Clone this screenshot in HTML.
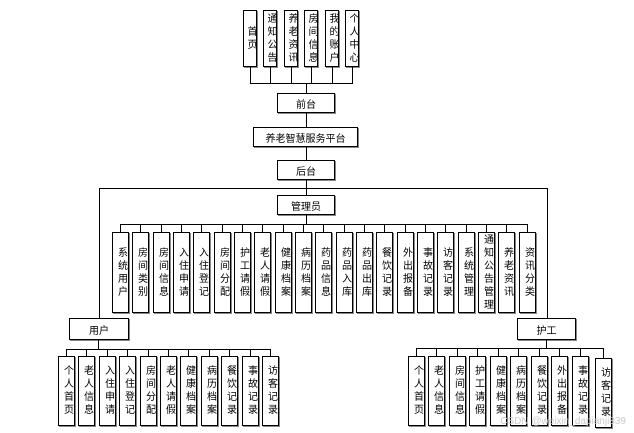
<!DOCTYPE html>
<html><head><meta charset="utf-8"><style>
body{margin:0;width:634px;height:433px;background:#fff;position:relative;overflow:hidden;font-family:"Liberation Sans","Noto Sans CJK SC",sans-serif;color:#000}
.b{position:absolute;box-sizing:border-box;border:1px solid #000;box-shadow:1px 1px 0 #888;background:#fff;display:flex;align-items:center;justify-content:center;font-size:10px}
.v span{writing-mode:vertical-rl;text-orientation:upright;letter-spacing:3px;line-height:1}
.h{position:absolute;height:1px;background:#000}
.l{position:absolute;width:1px;background:#000}
.w{position:absolute;font-size:10px;color:#ccc;right:8px;top:416px}
</style></head><body>
<!-- top row -->
<div class="b v" style="left:243px;top:10px;width:14px;height:57px"><span>首页</span></div>
<div class="b v" style="left:263px;top:10px;width:14px;height:57px"><span>通知公告</span></div>
<div class="b v" style="left:284px;top:10px;width:14px;height:57px"><span>养老资讯</span></div>
<div class="b v" style="left:304px;top:10px;width:14px;height:57px"><span>房间信息</span></div>
<div class="b v" style="left:325px;top:10px;width:14px;height:57px"><span>我的账户</span></div>
<div class="b v" style="left:345px;top:10px;width:14px;height:57px"><span>个人中心</span></div>
<div class="l" style="left:250px;top:67px;height:16px"></div>
<div class="l" style="left:270px;top:67px;height:16px"></div>
<div class="l" style="left:291px;top:67px;height:16px"></div>
<div class="l" style="left:311px;top:67px;height:16px"></div>
<div class="l" style="left:332px;top:67px;height:16px"></div>
<div class="l" style="left:352px;top:67px;height:16px"></div>
<div class="h" style="left:250px;top:83px;width:103px"></div>
<div class="l" style="left:306px;top:83px;height:10px"></div>
<div class="b" style="left:277px;top:93px;width:58px;height:20px">前台</div>
<div class="l" style="left:306px;top:113px;height:14px"></div>
<div class="b" style="left:253px;top:127px;width:105px;height:20px">养老智慧服务平台</div>
<div class="l" style="left:306px;top:147px;height:13px"></div>
<div class="b" style="left:277px;top:160px;width:58px;height:20px">后台</div>
<div class="l" style="left:306px;top:180px;height:15px"></div>
<div class="h" style="left:99px;top:188px;width:449px"></div>
<div class="l" style="left:99px;top:188px;height:130px"></div>
<div class="l" style="left:547px;top:188px;height:130px"></div>
<div class="b" style="left:277px;top:195px;width:58px;height:20px">管理员</div>
<div class="l" style="left:306px;top:215px;height:9px"></div>
<div class="h" style="left:120px;top:224px;width:408px"></div>
<!-- admin children -->
<div class="l" style="left:120px;top:224px;height:8px"></div><div class="b v" style="left:112px;top:232px;width:17px;height:81px"><span>系统用户</span></div>
<div class="l" style="left:140px;top:224px;height:8px"></div><div class="b v" style="left:132px;top:232px;width:17px;height:81px"><span>房间类别</span></div>
<div class="l" style="left:161px;top:224px;height:8px"></div><div class="b v" style="left:153px;top:232px;width:17px;height:81px"><span>房间信息</span></div>
<div class="l" style="left:181px;top:224px;height:8px"></div><div class="b v" style="left:173px;top:232px;width:17px;height:81px"><span>入住申请</span></div>
<div class="l" style="left:201px;top:224px;height:8px"></div><div class="b v" style="left:193px;top:232px;width:17px;height:81px"><span>入住登记</span></div>
<div class="l" style="left:222px;top:224px;height:8px"></div><div class="b v" style="left:214px;top:232px;width:17px;height:81px"><span>房间分配</span></div>
<div class="l" style="left:242px;top:224px;height:8px"></div><div class="b v" style="left:234px;top:232px;width:17px;height:81px"><span>护工请假</span></div>
<div class="l" style="left:262px;top:224px;height:8px"></div><div class="b v" style="left:254px;top:232px;width:17px;height:81px"><span>老人请假</span></div>
<div class="l" style="left:283px;top:224px;height:8px"></div><div class="b v" style="left:275px;top:232px;width:17px;height:81px"><span>健康档案</span></div>
<div class="l" style="left:303px;top:224px;height:8px"></div><div class="b v" style="left:295px;top:232px;width:17px;height:81px"><span>病历档案</span></div>
<div class="l" style="left:323px;top:224px;height:8px"></div><div class="b v" style="left:315px;top:232px;width:17px;height:81px"><span>药品信息</span></div>
<div class="l" style="left:344px;top:224px;height:8px"></div><div class="b v" style="left:336px;top:232px;width:17px;height:81px"><span>药品入库</span></div>
<div class="l" style="left:364px;top:224px;height:8px"></div><div class="b v" style="left:356px;top:232px;width:17px;height:81px"><span>药品出库</span></div>
<div class="l" style="left:384px;top:224px;height:8px"></div><div class="b v" style="left:376px;top:232px;width:17px;height:81px"><span>餐饮记录</span></div>
<div class="l" style="left:405px;top:224px;height:8px"></div><div class="b v" style="left:397px;top:232px;width:17px;height:81px"><span>外出报备</span></div>
<div class="l" style="left:425px;top:224px;height:8px"></div><div class="b v" style="left:417px;top:232px;width:17px;height:81px"><span>事故记录</span></div>
<div class="l" style="left:445px;top:224px;height:8px"></div><div class="b v" style="left:437px;top:232px;width:17px;height:81px"><span>访客记录</span></div>
<div class="l" style="left:466px;top:224px;height:8px"></div><div class="b v" style="left:458px;top:232px;width:17px;height:81px"><span>系统管理</span></div>
<div class="l" style="left:486px;top:224px;height:8px"></div><div class="b v" style="left:478px;top:232px;width:17px;height:81px"><span>通知公告管理</span></div>
<div class="l" style="left:506px;top:224px;height:8px"></div><div class="b v" style="left:498px;top:232px;width:17px;height:81px"><span>养老资讯</span></div>
<div class="l" style="left:527px;top:224px;height:8px"></div><div class="b v" style="left:519px;top:232px;width:17px;height:81px"><span>资讯分类</span></div>
<!-- user -->
<div class="b" style="left:69px;top:318px;width:60px;height:22px">用户</div>
<div class="l" style="left:98px;top:340px;height:9px"></div>
<div class="h" style="left:66px;top:349px;width:205px"></div>
<div class="l" style="left:66px;top:349px;height:7px"></div><div class="b v" style="left:58px;top:356px;width:17px;height:70px"><span>个人首页</span></div>
<div class="l" style="left:86px;top:349px;height:7px"></div><div class="b v" style="left:78px;top:356px;width:17px;height:70px"><span>老人信息</span></div>
<div class="l" style="left:107px;top:349px;height:7px"></div><div class="b v" style="left:99px;top:356px;width:17px;height:70px"><span>入住申请</span></div>
<div class="l" style="left:127px;top:349px;height:7px"></div><div class="b v" style="left:119px;top:356px;width:17px;height:70px"><span>入住登记</span></div>
<div class="l" style="left:148px;top:349px;height:7px"></div><div class="b v" style="left:140px;top:356px;width:17px;height:70px"><span>房间分配</span></div>
<div class="l" style="left:168px;top:349px;height:7px"></div><div class="b v" style="left:160px;top:356px;width:17px;height:70px"><span>老人请假</span></div>
<div class="l" style="left:188px;top:349px;height:7px"></div><div class="b v" style="left:180px;top:356px;width:17px;height:70px"><span>健康档案</span></div>
<div class="l" style="left:209px;top:349px;height:7px"></div><div class="b v" style="left:201px;top:356px;width:17px;height:70px"><span>病历档案</span></div>
<div class="l" style="left:229px;top:349px;height:7px"></div><div class="b v" style="left:221px;top:356px;width:17px;height:70px"><span>餐饮记录</span></div>
<div class="l" style="left:250px;top:349px;height:7px"></div><div class="b v" style="left:242px;top:356px;width:17px;height:70px"><span>事故记录</span></div>
<div class="l" style="left:270px;top:349px;height:7px"></div><div class="b v" style="left:262px;top:356px;width:17px;height:70px"><span>访客记录</span></div>
<!-- nurse -->
<div class="b" style="left:517px;top:318px;width:59px;height:22px">护工</div>
<div class="l" style="left:546px;top:340px;height:8px"></div>
<div class="h" style="left:416px;top:348px;width:188px"></div>
<div class="l" style="left:416px;top:348px;height:8px"></div><div class="b v" style="left:408px;top:356px;width:17px;height:70px"><span>个人首页</span></div>
<div class="l" style="left:436px;top:348px;height:8px"></div><div class="b v" style="left:428px;top:356px;width:17px;height:70px"><span>老人信息</span></div>
<div class="l" style="left:457px;top:348px;height:8px"></div><div class="b v" style="left:449px;top:356px;width:17px;height:70px"><span>房间信息</span></div>
<div class="l" style="left:477px;top:348px;height:8px"></div><div class="b v" style="left:469px;top:356px;width:17px;height:70px"><span>护工请假</span></div>
<div class="l" style="left:498px;top:348px;height:8px"></div><div class="b v" style="left:490px;top:356px;width:17px;height:70px"><span>健康档案</span></div>
<div class="l" style="left:518px;top:348px;height:8px"></div><div class="b v" style="left:510px;top:356px;width:17px;height:70px"><span>病历档案</span></div>
<div class="l" style="left:539px;top:348px;height:8px"></div><div class="b v" style="left:531px;top:356px;width:17px;height:70px"><span>餐饮记录</span></div>
<div class="l" style="left:559px;top:348px;height:8px"></div><div class="b v" style="left:551px;top:356px;width:17px;height:70px"><span>外出报备</span></div>
<div class="l" style="left:580px;top:348px;height:8px"></div><div class="b v" style="left:572px;top:356px;width:17px;height:70px"><span>事故记录</span></div>
<div class="l" style="left:603px;top:348px;height:10px"></div><div class="b v" style="left:595px;top:358px;width:17px;height:70px"><span>访客记录</span></div>
<div class="w">CSDN @weixin_dapianji839</div>
</body></html>
